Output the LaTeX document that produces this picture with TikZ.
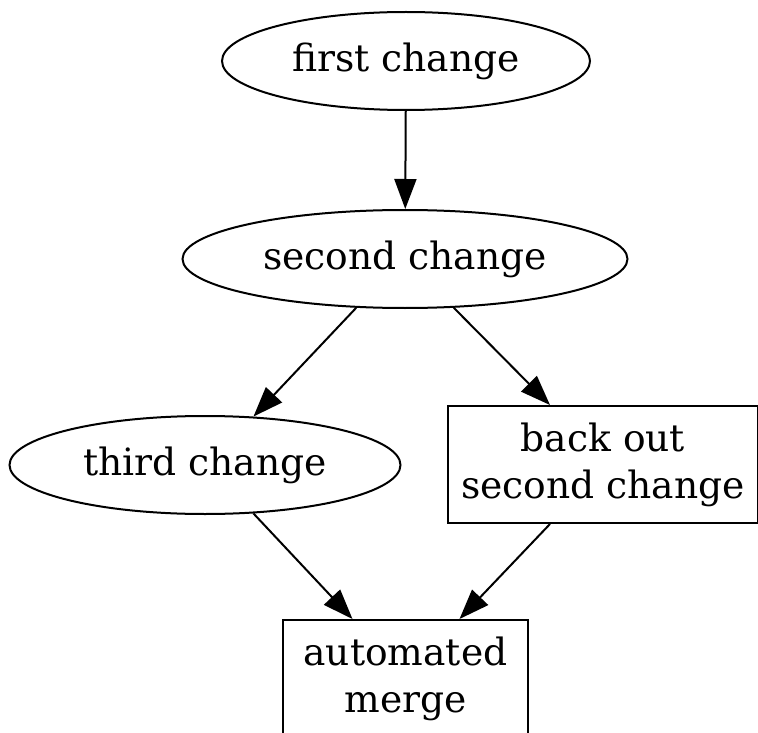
\documentclass[tikz,border=0pt]{standalone}
\usepackage{fontspec}
\setmainfont{DejaVu Serif}
\usetikzlibrary{shapes.geometric}
\usetikzlibrary{arrows.meta}

\begin{document}
\begin{tikzpicture}[x=1pt,y=-1pt]
\fontsize{37.6}{47}\selectfont
\tikzstyle{change}=[ellipse,draw,line width=2pt,inner sep=0pt,minimum height=98pt]
\tikzstyle{result}=[rectangle,draw,line width=2pt,align=center,minimum height=117pt]
\tikzstyle{edge}=[-{Triangle[length=30pt,width=22pt]},line width=2pt]

\useasboundingbox (0,0) rectangle (758,733);

\node[change,minimum width=368pt] (first) at (406,61) {first change} ;
\node[change,minimum width=445pt] (second) at (405,259) {second change} ;
\node[change,minimum width=391pt] (third) at (205,465) {third change} ;
\node[result,minimum width=310pt] (backout) at (603,464.5) {back out\\second change} ;
\node[result,minimum width=245pt] (merge) at (405.5,678.5) {automated\\merge} ;

\draw[edge] (first) -- (second) ;
\draw[edge] (second.-135) -- (third.45) ;
\draw[edge] (second.-45) -- ([xshift=-53pt]backout.north) ;
\draw[edge] (third.-45) -- ([xshift=-53pt]merge.north) ;
\draw[edge] ([xshift=-53pt]backout.south) -- ([xshift=54pt]merge.north) ;

\end{tikzpicture}
\end{document}
